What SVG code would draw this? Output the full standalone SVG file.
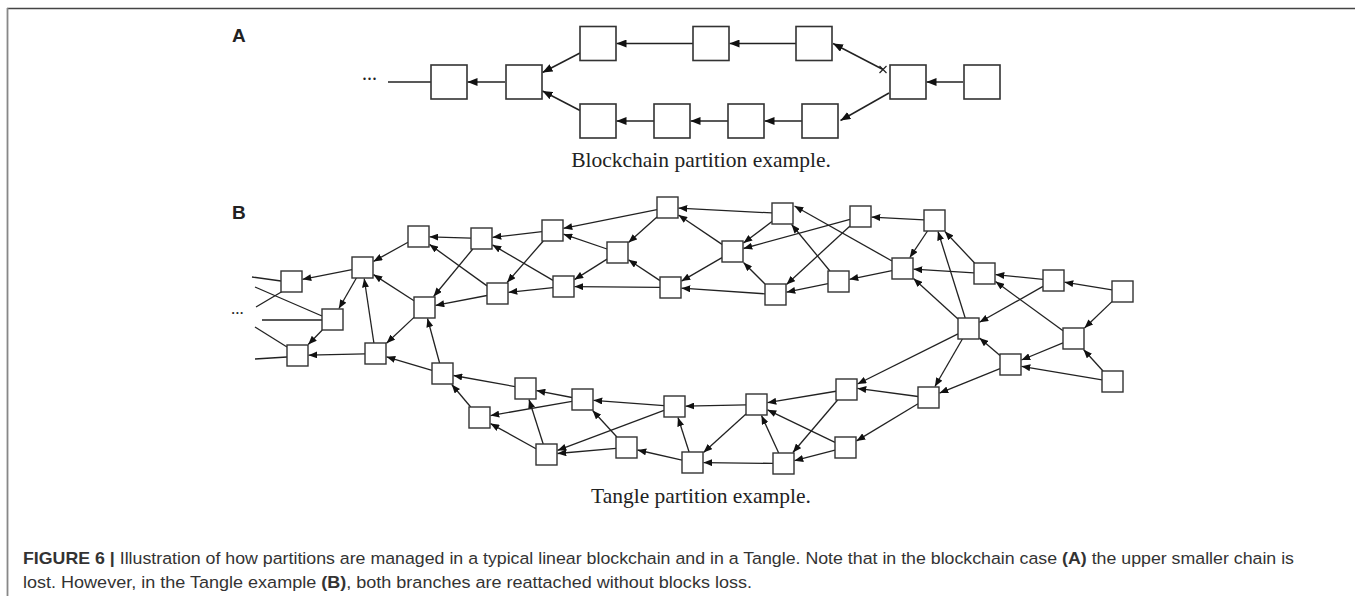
<svg xmlns="http://www.w3.org/2000/svg" width="1355" height="596" viewBox="0 0 1355 596">
<style>
.bb{fill:#fff;stroke:#333;stroke-width:1.6}
.tb{fill:#fff;stroke:#333;stroke-width:1.4}
.ea{stroke:#222;stroke-width:1.5;fill:none;marker-end:url(#ahA)}
.et{stroke:#222;stroke-width:1.3;fill:none;marker-end:url(#ahT)}
.st{stroke:#222;stroke-width:1.3;fill:none}
.lbl{font-family:"Liberation Sans",Arial,sans-serif;font-weight:bold;font-size:19px;fill:#222}
.cap{font-family:"Liberation Serif","Times New Roman",serif;font-size:21.5px;fill:#222}
.dots{font-family:"Liberation Serif","Times New Roman",serif;fill:#222}
.fig{font-family:"Liberation Sans",Arial,sans-serif;font-size:16.3px;fill:#333}
.b{font-weight:bold}
</style>
<defs>
<marker id="ahA" viewBox="0 0 10 8" refX="10" refY="4" markerUnits="userSpaceOnUse" markerWidth="10" markerHeight="8" orient="auto"><path d="M0,0 L10,4 L0,8 z" fill="#111"/></marker>
<marker id="ahT" viewBox="0 0 10 8" refX="10" refY="4" markerUnits="userSpaceOnUse" markerWidth="9" markerHeight="7" orient="auto"><path d="M0,0 L10,4 L0,8 z" fill="#111"/></marker>
</defs>
<rect x="0" y="0" width="1355" height="596" fill="#fff"/>
<g id="frame">
<line x1="7" y1="8.5" x2="1355" y2="8.5" stroke="#444" stroke-width="1.5"/>
<line x1="7.5" y1="8" x2="7.5" y2="596" stroke="#888" stroke-width="1.8"/>
</g>
<text class="lbl" x="232" y="42">A</text>
<text class="lbl" x="232" y="219">B</text>
<text class="dots" x="362" y="80" font-size="20">...</text>
<text class="dots" x="231" y="314" font-size="17">...</text>

<g id="connectors-A">
<line class="st" x1="388" y1="82" x2="431" y2="82" style="stroke-width:1.5"/>
<line class="ea" x1="505" y1="82" x2="467.5" y2="82"/>
<line class="ea" x1="580" y1="53" x2="542.5" y2="72.5"/>
<line class="ea" x1="580" y1="110.5" x2="542.5" y2="91"/>
<line class="ea" x1="693" y1="43.5" x2="616.5" y2="43.5"/>
<line class="ea" x1="796" y1="43.5" x2="729.5" y2="43.5"/>
<line class="ea" x1="883" y1="69.5" x2="833" y2="43.5"/>
<path d="M879.5,66 L886.5,73 M886.5,66 L879.5,73" stroke="#222" stroke-width="1.2" fill="none"/>
<line class="ea" x1="889" y1="93" x2="840.5" y2="120.5"/>
<line class="ea" x1="654" y1="121" x2="616.5" y2="121"/>
<line class="ea" x1="728" y1="121" x2="690.5" y2="121"/>
<line class="ea" x1="802" y1="121" x2="764.5" y2="121"/>
<line class="ea" x1="963" y1="82" x2="926.5" y2="82"/>
</g>
<g id="a-nodes">
<g id="a1"><rect class="bb" x="431" y="65" width="36" height="34"/></g>
<g id="a2"><rect class="bb" x="506" y="65" width="36" height="34"/></g>
<g id="au1"><rect class="bb" x="580" y="26.5" width="36" height="34"/></g>
<g id="au2"><rect class="bb" x="693" y="26.5" width="36" height="34"/></g>
<g id="au3"><rect class="bb" x="796" y="26.5" width="36" height="34"/></g>
<g id="al1"><rect class="bb" x="580" y="104" width="36" height="34"/></g>
<g id="al2"><rect class="bb" x="654" y="104" width="36" height="34"/></g>
<g id="al3"><rect class="bb" x="728" y="104" width="36" height="34"/></g>
<g id="al4"><rect class="bb" x="802" y="104" width="36" height="34"/></g>
<g id="ar1"><rect class="bb" x="890" y="65" width="36" height="34"/></g>
<g id="ar2"><rect class="bb" x="964" y="65" width="36" height="34"/></g>
</g>
<text class="cap" x="701" y="167" text-anchor="middle">Blockchain partition example.</text>

<g id="connectors-B">
<line class="st" x1="252" y1="277" x2="281" y2="281"/>
<line class="st" x1="255" y1="287" x2="322" y2="316"/>
<line class="st" x1="256" y1="307" x2="283" y2="291"/>
<line class="st" x1="262" y1="320" x2="322" y2="320"/>
<line class="st" x1="255" y1="327" x2="287" y2="347"/>
<line class="st" x1="255" y1="359" x2="287" y2="357"/>
<line class="et" x1="352" y1="269.6" x2="302.5" y2="279.3"/>
<line class="et" x1="356.4" y1="278" x2="338.9" y2="308.5"/>
<line class="et" x1="408" y1="242.3" x2="373.5" y2="261.4"/>
<line class="et" x1="414" y1="300.7" x2="373.5" y2="274.6"/>
<line class="et" x1="373.9" y1="343" x2="364.2" y2="278.5"/>
<line class="et" x1="322.3" y1="330" x2="308.2" y2="344.5"/>
<line class="et" x1="365" y1="353.8" x2="308.5" y2="355.2"/>
<line class="et" x1="471" y1="238.2" x2="429.5" y2="236.8"/>
<line class="et" x1="487" y1="285.9" x2="429.5" y2="244.4"/>
<line class="et" x1="472.8" y1="249" x2="433.6" y2="296.5"/>
<line class="et" x1="487" y1="295.5" x2="435.5" y2="305.4"/>
<line class="et" x1="439.6" y1="363" x2="427.5" y2="318.5"/>
<line class="et" x1="414" y1="317.4" x2="386.5" y2="343.2"/>
<line class="et" x1="432" y1="370.4" x2="386.5" y2="356.8"/>
<line class="et" x1="542" y1="231.7" x2="492.5" y2="237.3"/>
<line class="et" x1="553" y1="280.4" x2="492.5" y2="244.9"/>
<line class="et" x1="543.3" y1="241" x2="507.1" y2="282.5"/>
<line class="et" x1="553" y1="287.6" x2="508.5" y2="292.3"/>
<line class="et" x1="657" y1="209.6" x2="563.5" y2="228.3"/>
<line class="et" x1="607" y1="249" x2="563.5" y2="234.2"/>
<line class="et" x1="607" y1="259.1" x2="574.5" y2="279.6"/>
<line class="et" x1="660" y1="287.4" x2="574.5" y2="286.6"/>
<line class="et" x1="657" y1="217" x2="628.5" y2="242.6"/>
<line class="et" x1="660" y1="280.6" x2="628.5" y2="259.8"/>
<line class="et" x1="772" y1="212.95" x2="678.5" y2="208.1"/>
<line class="et" x1="722" y1="244.4" x2="678.5" y2="215"/>
<line class="et" x1="722" y1="257.6" x2="681.5" y2="281.1"/>
<line class="et" x1="765" y1="293.8" x2="681.5" y2="288.2"/>
<line class="et" x1="772" y1="221.5" x2="743.5" y2="243.1"/>
<line class="et" x1="850" y1="219.4" x2="743.5" y2="248.5"/>
<line class="et" x1="765" y1="284" x2="743.5" y2="262.5"/>
<line class="et" x1="892" y1="261" x2="794.5" y2="206"/>
<line class="et" x1="829.9" y1="271" x2="791.6" y2="224.5"/>
<line class="et" x1="850" y1="226.1" x2="786.5" y2="284.4"/>
<line class="et" x1="828" y1="283.7" x2="786.5" y2="292.2"/>
<line class="et" x1="892" y1="270.6" x2="849.5" y2="279.3"/>
<line class="et" x1="924" y1="219.9" x2="871.5" y2="217.1"/>
<line class="et" x1="927.5" y1="231" x2="909.8" y2="257.5"/>
<line class="et" x1="974" y1="272.9" x2="913.5" y2="269.2"/>
<line class="et" x1="958" y1="319" x2="913.5" y2="278.5"/>
<line class="et" x1="974.6" y1="263" x2="944.9" y2="231.5"/>
<line class="et" x1="965.2" y1="318" x2="938" y2="231.5"/>
<line class="et" x1="1043" y1="279.4" x2="995.5" y2="274.6"/>
<line class="et" x1="1063" y1="330.8" x2="995.5" y2="281.5"/>
<line class="et" x1="1112" y1="289.8" x2="1064.5" y2="282.2"/>
<line class="et" x1="1043" y1="286.4" x2="979.5" y2="322.3"/>
<line class="et" x1="1000" y1="355.5" x2="979.5" y2="337.9"/>
<line class="et" x1="1112" y1="301.6" x2="1084.5" y2="328"/>
<line class="et" x1="1103" y1="371" x2="1083.5" y2="349.5"/>
<line class="et" x1="1063" y1="342.8" x2="1021.5" y2="360"/>
<line class="et" x1="1102" y1="379.8" x2="1021.5" y2="366.3"/>
<line class="et" x1="962.4" y1="339" x2="934.9" y2="386.5"/>
<line class="et" x1="1000" y1="368.7" x2="939.5" y2="393.1"/>
<line class="et" x1="958" y1="333.8" x2="857.5" y2="384"/>
<line class="et" x1="918" y1="396.5" x2="857.5" y2="388.4"/>
<line class="et" x1="918" y1="403.8" x2="856.5" y2="440.9"/>
<line class="et" x1="836" y1="391.25" x2="767.5" y2="402.7"/>
<line class="et" x1="837.6" y1="400" x2="792.9" y2="452.5"/>
<line class="et" x1="835" y1="442.4" x2="767.5" y2="409.8"/>
<line class="et" x1="835" y1="450.2" x2="794.5" y2="460.7"/>
<line class="et" x1="778.7" y1="453" x2="761.5" y2="415.5"/>
<line class="et" x1="773" y1="463.4" x2="703.5" y2="462.6"/>
<line class="et" x1="746" y1="414" x2="703.5" y2="452.5"/>
<line class="et" x1="746" y1="404.8" x2="685.5" y2="406.2"/>
<line class="et" x1="689.1" y1="452" x2="678" y2="417.5"/>
<line class="et" x1="682" y1="460.1" x2="637.5" y2="450"/>
<line class="et" x1="664" y1="405.7" x2="593.5" y2="400.3"/>
<line class="et" x1="616.9" y1="437" x2="592.6" y2="410.5"/>
<line class="et" x1="664" y1="410.4" x2="557.5" y2="450.4"/>
<line class="et" x1="616" y1="448.4" x2="557.5" y2="453.5"/>
<line class="et" x1="572" y1="397.5" x2="536.5" y2="390.6"/>
<line class="et" x1="543.2" y1="444" x2="529" y2="399.5"/>
<line class="et" x1="572" y1="401.3" x2="490.5" y2="415.6"/>
<line class="et" x1="536" y1="448.7" x2="490.5" y2="423.6"/>
<line class="et" x1="515" y1="386.6" x2="453.5" y2="375.5"/>
<line class="et" x1="470.7" y1="407" x2="451.75" y2="384.5"/>
</g>
<g id="b-nodes">
<g id="t1"><rect class="tb" x="281" y="271" width="21" height="21"/></g>
<g id="t2"><rect class="tb" x="322" y="309" width="21" height="21"/></g>
<g id="t3"><rect class="tb" x="287" y="345" width="21" height="21"/></g>
<g id="t4"><rect class="tb" x="352" y="257" width="21" height="21"/></g>
<g id="t5"><rect class="tb" x="365" y="343" width="21" height="21"/></g>
<g id="t6"><rect class="tb" x="408" y="226" width="21" height="21"/></g>
<g id="t7"><rect class="tb" x="414" y="297" width="21" height="21"/></g>
<g id="t8"><rect class="tb" x="471" y="228" width="21" height="21"/></g>
<g id="t9"><rect class="tb" x="487" y="283" width="21" height="21"/></g>
<g id="t10"><rect class="tb" x="542" y="220" width="21" height="21"/></g>
<g id="t11"><rect class="tb" x="553" y="276" width="21" height="21"/></g>
<g id="t12"><rect class="tb" x="607" y="242" width="21" height="21"/></g>
<g id="t13"><rect class="tb" x="657" y="197" width="21" height="21"/></g>
<g id="t14"><rect class="tb" x="660" y="277" width="21" height="21"/></g>
<g id="t15"><rect class="tb" x="722" y="241" width="21" height="21"/></g>
<g id="t16"><rect class="tb" x="772" y="203" width="21" height="21"/></g>
<g id="t17"><rect class="tb" x="765" y="284" width="21" height="21"/></g>
<g id="t18"><rect class="tb" x="828" y="271" width="21" height="21"/></g>
<g id="t19"><rect class="tb" x="850" y="206" width="21" height="21"/></g>
<g id="t20"><rect class="tb" x="892" y="258" width="21" height="21"/></g>
<g id="t21"><rect class="tb" x="924" y="210" width="21" height="21"/></g>
<g id="t22"><rect class="tb" x="974" y="263" width="21" height="21"/></g>
<g id="t23"><rect class="tb" x="1043" y="270" width="21" height="21"/></g>
<g id="t24"><rect class="tb" x="1112" y="281" width="21" height="21"/></g>
<g id="t25"><rect class="tb" x="958" y="318" width="21" height="21"/></g>
<g id="t26"><rect class="tb" x="1063" y="328" width="21" height="21"/></g>
<g id="t27"><rect class="tb" x="1000" y="354" width="21" height="21"/></g>
<g id="t28"><rect class="tb" x="1102" y="371" width="21" height="21"/></g>
<g id="t29"><rect class="tb" x="918" y="387" width="21" height="21"/></g>
<g id="t30"><rect class="tb" x="836" y="379" width="21" height="21"/></g>
<g id="t31"><rect class="tb" x="835" y="437" width="21" height="21"/></g>
<g id="t32"><rect class="tb" x="773" y="453" width="21" height="21"/></g>
<g id="t33"><rect class="tb" x="746" y="394" width="21" height="21"/></g>
<g id="t34"><rect class="tb" x="682" y="452" width="21" height="21"/></g>
<g id="t35"><rect class="tb" x="664" y="396" width="21" height="21"/></g>
<g id="t36"><rect class="tb" x="616" y="437" width="21" height="21"/></g>
<g id="t37"><rect class="tb" x="572" y="389" width="21" height="21"/></g>
<g id="t38"><rect class="tb" x="536" y="444" width="21" height="21"/></g>
<g id="t39"><rect class="tb" x="515" y="378" width="21" height="21"/></g>
<g id="t40"><rect class="tb" x="469" y="407" width="21" height="21"/></g>
<g id="t41"><rect class="tb" x="432" y="363" width="21" height="21"/></g>
</g>
<text class="cap" x="701" y="503" text-anchor="middle">Tangle partition example.</text>
<text class="fig" x="23" y="564" textLength="1271" lengthAdjust="spacingAndGlyphs"><tspan class="b">FIGURE 6 |</tspan> Illustration of how partitions are managed in a typical linear blockchain and in a Tangle. Note that in the blockchain case <tspan class="b">(A)</tspan> the upper smaller chain is</text>
<text class="fig" x="23" y="588" textLength="729" lengthAdjust="spacingAndGlyphs">lost. However, in the Tangle example <tspan class="b">(B)</tspan>, both branches are reattached without blocks loss.</text>
</svg>
